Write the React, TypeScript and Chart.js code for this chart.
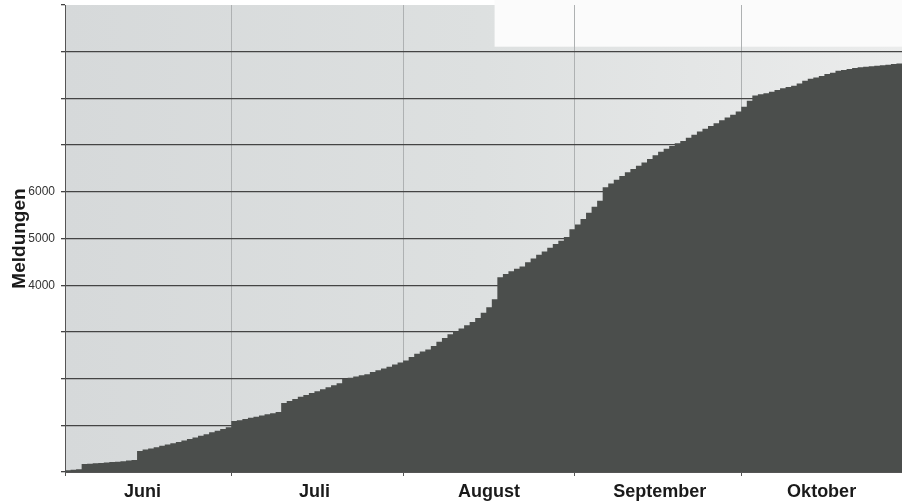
import React, { useEffect, useRef } from "react";
import { Chart, registerables } from "chart.js";

Chart.register(...registerables);

// Cumulative daily report counts ("Meldungen"), one value per day
const juni = [
  40, 50, 60, 170, 178, 186, 195, 203, 212, 222, 232, 244, 256, 450, 480, 505, 530, 560, 590, 615,
  645, 675, 705, 740, 775, 810, 850, 885, 920, 960,
];
const juli = [
  1090, 1110, 1135, 1160, 1185, 1210, 1235, 1260, 1285, 1480, 1520, 1565, 1610, 1650, 1690, 1730,
  1770, 1815, 1860, 1900, 1990, 2020, 2045, 2070, 2095, 2140, 2180, 2215, 2255, 2300, 2345,
];
const august = [
  2390, 2460, 2530, 2580, 2625, 2700, 2790, 2870, 2950, 3010, 3075, 3140, 3210, 3300, 3410, 3530,
  3700, 4170, 4240, 4300, 4350, 4400, 4490, 4570, 4650, 4720, 4800, 4880, 4950, 5030, 5200,
];
const september = [
  5300, 5420, 5550, 5680, 5810, 6100, 6180, 6260, 6340, 6420, 6490, 6560, 6630, 6700, 6780, 6860,
  6920, 6980, 7040, 7090, 7160, 7220, 7290, 7350, 7410, 7470, 7530, 7590, 7650, 7720,
];
const oktober = [
  7820, 7950, 8060, 8090, 8110, 8140, 8180, 8220, 8245, 8270, 8320, 8380, 8420, 8450, 8480, 8520,
  8550, 8590, 8610, 8630, 8650, 8665, 8680, 8690, 8700, 8710, 8720, 8735, 8750,
];

const monthNames = ["Juni", "Juli", "August", "September", "Oktober"];
const monthStarts = [0, 30, 61, 92, 122];
const monthLabelDays = [14, 45, 76.5, 107.3, 136.5];
const totalDays = 151;
const yMax = 10000;
const yStep = 1000;
const yLabeled = [4000, 5000, 6000];

export default function App() {
  const ref = useRef<HTMLCanvasElement>(null);

  useEffect(() => {
    document.body.style.margin = "0";
    const values = [...juni, ...juli, ...august, ...september, ...oktober];
    const points = values.map((v, i) => ({ x: i, y: v }));
    points.push({ x: values.length, y: values[values.length - 1] });

    const bgPlugin = {
      id: "plotBg",
      beforeDraw(chart: any) {
        const { ctx, chartArea: a, scales } = chart;
        ctx.save();
        const g = ctx.createLinearGradient(a.left, 0, a.right, 0);
        g.addColorStop(0, "#d6d9da");
        g.addColorStop(0.5, "#dde0e0");
        g.addColorStop(1, "#ebecec");
        ctx.fillStyle = g;
        ctx.fillRect(a.left, a.top, a.right - a.left, a.bottom - a.top);
        const x0 = scales.x.getPixelForValue(77.5);
        const y1 = scales.y.getPixelForValue(9000) - 5;
        ctx.fillStyle = "#fbfbfb";
        ctx.fillRect(x0, 0, a.right - x0, y1);
        ctx.restore();
      },
    };

    const fontFamily = '"Liberation Sans", Arial, sans-serif';

    const chart = new Chart(ref.current as HTMLCanvasElement, {
      type: "line",
      data: {
        datasets: [
          {
            data: points,
            stepped: "before",
            fill: "origin",
            backgroundColor: "#4b4e4c",
            borderColor: "#4b4e4c",
            borderWidth: 0,
            pointRadius: 0,
          },
        ],
      },
      plugins: [bgPlugin],
      options: {
        animation: false,
        responsive: true,
        maintainAspectRatio: false,
        layout: { padding: { top: 5, right: 0, left: 0, bottom: 0 } },
        plugins: { legend: { display: false }, tooltip: { enabled: false } },
        scales: {
          x: {
            type: "linear",
            min: 0,
            max: totalDays,
            afterBuildTicks: (s: any) => {
              s.ticks = [...monthStarts, ...monthLabelDays]
                .sort((a, b) => a - b)
                .map((v) => ({ value: v }));
            },
            afterFit: (s: any) => {
              s.height = 30;
              s.paddingLeft = 0;
              s.paddingRight = 0;
            },
            ticks: {
              autoSkip: false,
              maxRotation: 0,
              padding: 5,
              color: "#1a1a1a",
              font: { family: fontFamily, size: 18, weight: "bold" },
              callback: (v: any) => {
                const i = monthLabelDays.indexOf(Number(v));
                return i >= 0 ? monthNames[i] : "";
              },
            },
            grid: {
              color: (c: any) =>
                c.tick && monthStarts.includes(c.tick.value) ? "#aeb1b2" : "transparent",
              tickColor: (c: any) =>
                c.tick && monthStarts.includes(c.tick.value) ? "#555555" : "transparent",
              tickLength: 4,
              lineWidth: 1,
            },
            border: { color: "#555555", width: 1 },
          },
          y: {
            min: 0,
            max: yMax,
            afterFit: (s: any) => {
              s.width = 65;
              s.paddingTop = 0;
              s.paddingBottom = 0;
            },
            ticks: {
              stepSize: yStep,
              padding: 6,
              color: "#333333",
              font: { family: fontFamily, size: 12 },
              callback: (v: any) => (yLabeled.includes(Number(v)) ? String(v) : ""),
            },
            grid: {
              color: (c: any) =>
                c.tick && (c.tick.value === 0 || c.tick.value === yMax) ? "transparent" : "#444444",
              tickColor: "#444444",
              lineWidth: 1.3,
              tickLength: 4,
            },
            border: { color: "#555555", width: 1 },
            title: {
              display: true,
              text: "Meldungen",
              color: "#1a1a1a",
              font: { family: fontFamily, size: 19, weight: "bold" },
              padding: { top: 8, bottom: 0 },
            },
          },
        },
      },
    } as any);

    return () => chart.destroy();
  }, []);

  return (
    <div style={{ width: 902, height: 502, position: "relative" }}>
      <canvas ref={ref} />
    </div>
  );
}
